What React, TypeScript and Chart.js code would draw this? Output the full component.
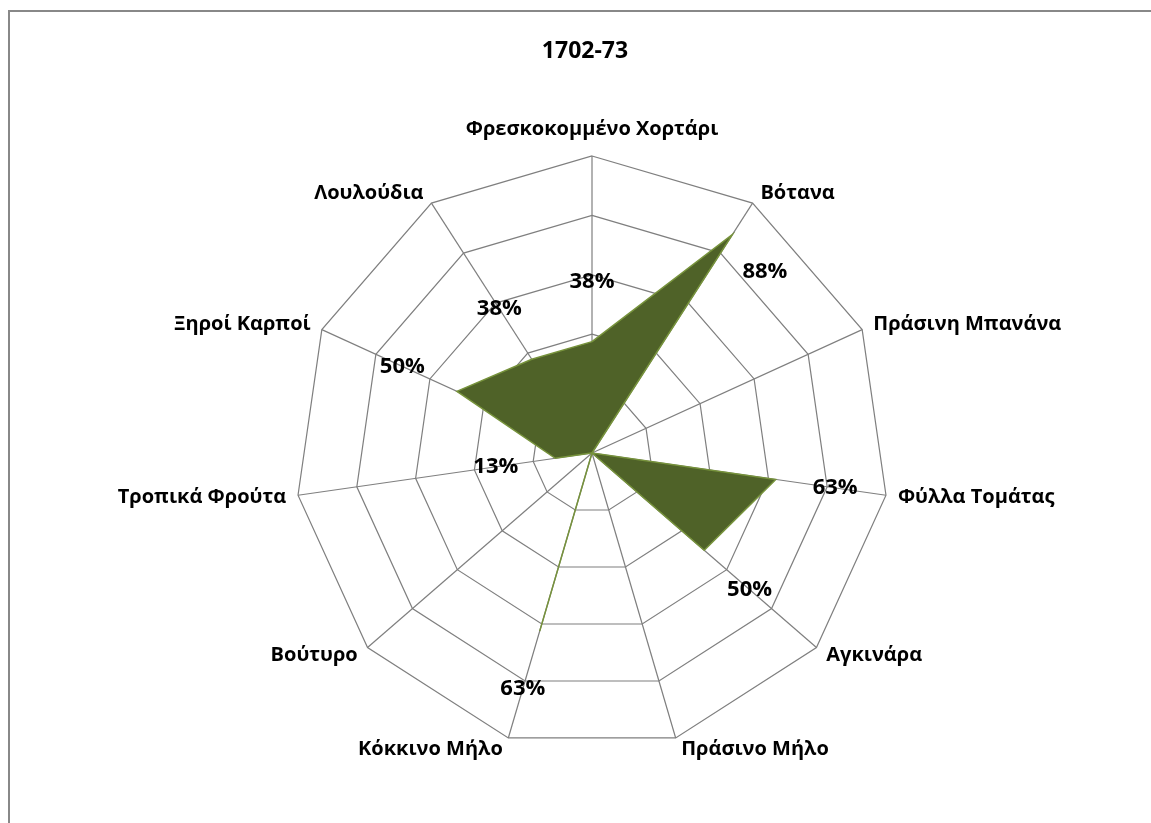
import React, { useEffect, useRef } from "react";
import { Chart, registerables } from "chart.js";

Chart.register(...registerables);

const TITLE = "1702-73";
const CATEGORIES = [
  "Φρεσκοκομμένο Χορτάρι",
  "Βότανα",
  "Πράσινη Μπανάνα",
  "Φύλλα Τομάτας",
  "Αγκινάρα",
  "Πράσινο Μήλο",
  "Κόκκινο Μήλο",
  "Βούτυρο",
  "Τροπικά Φρούτα",
  "Ξηροί Καρποί",
  "Λουλούδια",
];
const VALUES = [37.5, 87.5, 0, 62.5, 50, 0, 62.5, 0, 12.5, 50, 37.5];
const SCALE_MIN = 0;
const SCALE_MAX = 100;
const SCALE_STEP = 20;

// label nudges (px) for data labels that were moved off the radial line
const LABEL_NUDGE: Record<number, [number, number]> = { 1: [0, 88] };

const FONT = "'Open Sans', 'DejaVu Sans', sans-serif";

const overlayPlugin = {
  id: "overlay",
  afterDatasetsDraw(chart: any) {
    const { ctx } = chart;
    const scale = chart.scales.r;
    const R = scale.drawingArea;
    const cx = scale.xCenter;
    ctx.save();
    ctx.fillStyle = "#000";

    // Title
    ctx.font = `bold 23px ${FONT}`;
    ctx.textAlign = "center";
    ctx.textBaseline = "middle";
    ctx.fillText(TITLE, cx - 7, 39);

    // Category labels
    ctx.font = `bold 20px ${FONT}`;
    const n = CATEGORIES.length;
    CATEGORIES.forEach((label, i) => {
      const p = scale.getPointPosition(i, R);
      const a = (i * 2 * Math.PI) / n;
      const deg = (a * 180) / Math.PI;
      ctx.textBaseline = "middle";
      if (i === 0) {
        ctx.textAlign = "center";
        ctx.fillText(label, p.x, p.y - 27);
        return;
      }
      const dy = -12 * Math.cos(a);
      const dx = 3 + 9 * Math.abs(Math.sin(a));
      if (deg < 180) {
        ctx.textAlign = "left";
        ctx.fillText(label, p.x + dx, p.y + dy);
      } else {
        ctx.textAlign = "right";
        ctx.fillText(label, p.x - dx, p.y + dy);
      }
    });

    // Data labels
    ctx.font = `bold 22px ${FONT}`;
    ctx.textAlign = "center";
    ctx.textBaseline = "middle";
    VALUES.forEach((v, i) => {
      if (!v) return;
      const d = scale.getDistanceFromCenterForValue(v) + 60;
      const p = scale.getPointPosition(i, d);
      const nudge = LABEL_NUDGE[i] || [0, 0];
      ctx.fillText(Math.round(v) + "%", p.x + nudge[0], p.y + nudge[1]);
    });
    ctx.restore();
  },
};

export default function App() {
  const ref = useRef<HTMLCanvasElement>(null);
  useEffect(() => {
    if (!ref.current) return;
    const chart = new Chart(ref.current, {
      type: "radar",
      data: {
        labels: CATEGORIES,
        datasets: [
          {
            label: TITLE,
            data: VALUES,
            backgroundColor: "#4F6228",
            borderColor: "#77933C",
            borderWidth: 1.5,
            fill: true,
            pointRadius: 0,
            pointHoverRadius: 0,
            tension: 0,
          },
        ],
      },
      options: {
        animation: false,
        responsive: true,
        maintainAspectRatio: false,
        layout: { padding: { left: 285, right: 254, top: 144, bottom: 65 } },
        plugins: {
          legend: { display: false },
          title: { display: false },
          tooltip: { enabled: false },
        },
        scales: {
          r: {
            min: SCALE_MIN,
            max: SCALE_MAX,
            startAngle: 0,
            ticks: { display: false, stepSize: SCALE_STEP },
            grid: { color: "#7f7f7f", lineWidth: 1.2 },
            angleLines: { color: "#7f7f7f", lineWidth: 1.2 },
            pointLabels: { display: false },
          },
        },
      },
      plugins: [overlayPlugin],
    });
    return () => chart.destroy();
  }, []);

  return (
    <div
      style={{
        position: "fixed",
        left: 8,
        top: 10,
        width: 1160,
        height: 830,
        borderTop: "2px solid #888888",
        borderLeft: "2px solid #888888",
        boxSizing: "border-box",
        background: "#fff",
      }}
    >
      <div style={{ position: "relative", width: 1133, height: 803 }}>
        <canvas ref={ref} />
      </div>
    </div>
  );
}
